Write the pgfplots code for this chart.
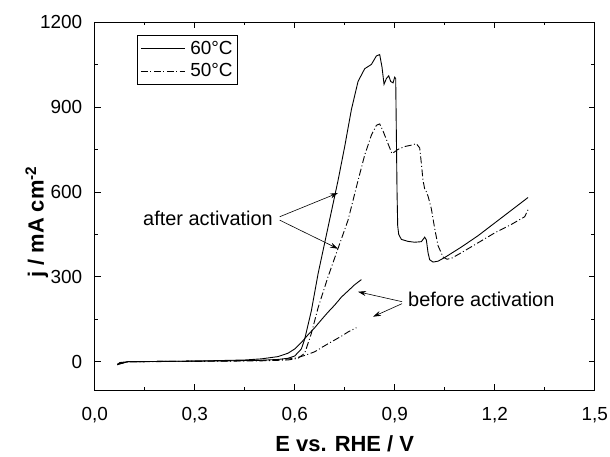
\documentclass[border=0pt]{standalone}
\usepackage{fontspec}
\setmainfont{Liberation Sans}
\usepackage{pgfplots}
\pgfplotsset{compat=1.18}
\usetikzlibrary{arrows.meta}

% 60 C, after activation
\pgfplotstableread{
x y
0.068 -12
0.075 -3
0.10 0
0.20 1
0.30 2
0.40 3
0.50 5
0.55 8
0.58 12
0.60 20
0.62 45
0.63 80
0.65 180
0.67 310
0.69 420
0.71 530
0.73 640
0.75 760
0.77 890
0.79 990
0.81 1035
0.83 1050
0.845 1080
0.855 1085
0.862 1040
0.868 980
0.875 1000
0.882 1010
0.888 990
0.895 985
0.900 1005
0.903 1000
0.905 800
0.907 600
0.909 480
0.912 450
0.92 432
0.94 425
0.96 422
0.98 424
0.99 440
0.995 430
1.000 385
1.005 360
1.015 352
1.03 355
1.05 368
1.10 405
1.15 445
1.20 490
1.25 535
1.30 580
}\afterA

% 50 C, after activation
\pgfplotstableread{
x y
0.068 -10
0.10 0
0.30 1
0.50 3
0.58 6
0.61 12
0.63 30
0.65 100
0.67 190
0.70 300
0.73 400
0.76 500
0.79 640
0.81 730
0.83 800
0.845 835
0.855 840
0.865 815
0.88 770
0.892 735
0.91 750
0.93 760
0.95 765
0.965 770
0.975 755
0.98 700
0.985 640
0.99 610
0.995 600
1.00 585
1.01 540
1.02 470
1.03 410
1.045 370
1.057 362
1.07 365
1.10 385
1.15 420
1.20 455
1.25 485
1.29 512
1.30 537
}\afterB

% 60 C, before activation
\pgfplotstableread{
x y
0.068 -10
0.10 0
0.30 2
0.45 6
0.50 10
0.55 18
0.58 30
0.60 45
0.62 68
0.64 95
0.66 120
0.68 148
0.70 175
0.72 200
0.74 228
0.76 250
0.78 272
0.80 290
}\beforeA

% 50 C, before activation
\pgfplotstableread{
x y
0.068 -8
0.10 0
0.40 3
0.55 6
0.60 12
0.63 22
0.66 35
0.685 53
0.71 70
0.74 90
0.76 105
0.785 120
}\beforeB

\begin{document}
\begin{tikzpicture}
\tikzset{dd/.style={dash pattern=on 7pt off 2.5pt on 1pt off 2.5pt}}
\begin{axis}[
    width=500bp, height=368bp, scale only axis,
    xmin=0, xmax=1.5, ymin=-100, ymax=1200,
    xtick={0,0.3,0.6,0.9,1.2,1.5},
    ytick={0,300,600,900,1200},
    minor x tick num=1, minor y tick num=1,
    tick align=inside,
    major tick length=6bp, minor tick length=3.5bp,
    tick style={black, line width=0.6pt},
    axis line style={line width=0.8pt},
    font=\fontsize{19}{22}\selectfont,
    /pgf/number format/assume math mode=true,
    /pgf/number format/1000 sep={},
    x tick label style={/pgf/number format/use comma, /pgf/number format/fixed,
        /pgf/number format/fixed zerofill, /pgf/number format/precision=1, yshift=-14bp},
    yticklabel style={xshift=-9bp},
    xlabel={\textbf{E vs. RHE / V}},
    ylabel={\textbf{j / mA cm\textsuperscript{-2}}},
    every axis x label/.style={at={(axis description cs:0.5,0)}, anchor=center,
        yshift=-54bp, font=\fontsize{22}{26}\selectfont},
    every axis y label/.style={at={(axis description cs:0,0.5)}, anchor=center, rotate=90,
        yshift=58bp, xshift=-16bp, font=\fontsize{22}{26}\selectfont},
    legend style={at={(0.085,0.965)}, anchor=north west, draw=black, fill=white,
        font=\fontsize{19}{22}\selectfont, inner xsep=3bp, inner ysep=4bp, row sep=4bp},
    legend cell align=left,
    legend image code/.code={\draw[#1] (0bp,0bp) -- (44bp,0bp); \path (47bp,0bp);},
]
\addplot[black, line width=0.9pt] table {\afterA};
\addlegendentry{60°C}
\addplot[black, line width=0.9pt, dd] table {\afterB};
\addlegendentry{50°C}
\addplot[black, line width=0.9pt, forget plot] table {\beforeA};
\addplot[black, line width=0.9pt, dd, forget plot] table {\beforeB};

\node[font=\fontsize{20}{24}\selectfont] at (axis cs:0.34,508) {after activation};
\draw[-{Stealth[length=8pt,width=5pt]}, line width=0.6pt] (axis cs:0.555,512) -- (axis cs:0.73,596);
\draw[-{Stealth[length=8pt,width=5pt]}, line width=0.6pt] (axis cs:0.555,500) -- (axis cs:0.73,399);
\node[font=\fontsize{20}{24}\selectfont, anchor=west] at (axis cs:0.93,219) {before activation};
\draw[-{Stealth[length=8pt,width=5pt]}, line width=0.6pt] (axis cs:0.922,212) -- (axis cs:0.79,247);
\draw[-{Stealth[length=8pt,width=5pt]}, line width=0.6pt] (axis cs:0.922,205) -- (axis cs:0.835,159);
\end{axis}
\pgfresetboundingbox
\path ([shift={(-94.7bp,-67bp)}]current axis.south west) rectangle ([shift={(15.3bp,22bp)}]current axis.north east);
\end{tikzpicture}
\end{document}
